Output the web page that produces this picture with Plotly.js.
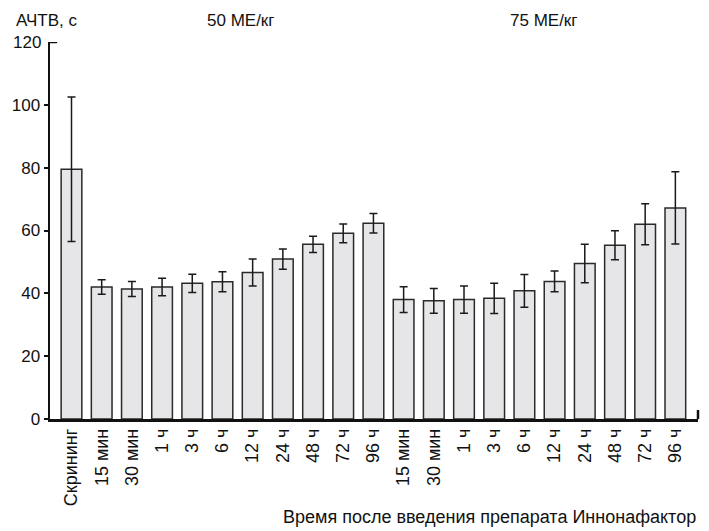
<!DOCTYPE html>
<html>
<head>
<meta charset="utf-8">
<script src="https://cdn.plot.ly/plotly-3.0.1.min.js"></script>
<style>html,body{margin:0;padding:0;background:#fff;}#chart{width:709px;height:531px;}</style>
</head>
<body>
<div id="chart"></div>
<script>
// Data
var categories = ["Скрининг","15 мин","30 мин","1 ч","3 ч","6 ч","12 ч","24 ч","48 ч","72 ч","96 ч",
                  "15 мин ","30 мин ","1 ч ","3 ч ","6 ч ","12 ч ","24 ч ","48 ч ","72 ч ","96 ч "];
var tickLabels = ["Скрининг","15 мин","30 мин","1 ч","3 ч","6 ч","12 ч","24 ч","48 ч","72 ч","96 ч",
                  "15 мин","30 мин","1 ч","3 ч","6 ч","12 ч","24 ч","48 ч","72 ч","96 ч"];
var meanValues = [79.5, 42.0, 41.4, 42.0, 43.2, 43.7, 46.6, 50.9, 55.6, 59.1, 62.3,
                  38.0, 37.6, 38.0, 38.4, 40.8, 43.8, 49.5, 55.3, 62.0, 67.2];
var errValues  = [23.0, 2.3, 2.4, 2.8, 2.9, 3.2, 4.3, 3.2, 2.6, 3.0, 3.1,
                  4.1, 3.9, 4.3, 4.8, 5.2, 3.3, 6.1, 4.6, 6.5, 11.5];
var groupLabels = ["50 МЕ/кг", "75 МЕ/кг"];
var yTicks = [0, 20, 40, 60, 80, 100];
var yTop = 120;

var FONT = "'Liberation Sans', Arial, sans-serif";

var trace = {
  type: "bar",
  x: categories,
  y: meanValues,
  width: 0.685,
  marker: {color: "#e6e6e8", line: {color: "#2a2a2a", width: 1.5}},
  error_y: {type: "data", array: errValues, visible: true, color: "#1a1a1a", thickness: 1.5, width: 4},
  hoverinfo: "none"
};

var layout = {
  width: 709, height: 531,
  margin: {l: 50, r: 11, t: 42, b: 112},
  paper_bgcolor: "#fff", plot_bgcolor: "#fff",
  showlegend: false,
  font: {family: FONT, size: 17, color: "#111"},
  xaxis: {
    type: "category",
    range: [-0.712, 20.75],
    tickvals: categories,
    ticktext: tickLabels,
    tickangle: -90,
    ticks: "",
    showgrid: false,
    zeroline: false,
    showline: true, linecolor: "#111", linewidth: 2.5,
    tickfont: {family: FONT, size: 18, color: "#111"},
    fixedrange: true
  },
  yaxis: {
    range: [0, yTop],
    tickvals: yTicks,
    ticks: "outside", ticklen: 4, tickwidth: 2, tickcolor: "#111",
    showgrid: false, zeroline: false,
    showline: true, linecolor: "#111", linewidth: 2.5,
    tickfont: {family: FONT, size: 17, color: "#111"},
    fixedrange: true
  },
  shapes: [
    {type: "line", xref: "paper", yref: "paper", x0: 1, x1: 1, y0: 0, y1: 0.024, line: {color: "#111", width: 2.5}},
    {type: "line", xref: "paper", yref: "y", x0: 0, x1: 0.011, y0: yTop, y1: yTop, line: {color: "#111", width: 2.5}}
  ],
  annotations: [
    {text: String(yTop), xref: "paper", yref: "y", x: -0.011, y: yTop, xanchor: "right", yanchor: "middle", showarrow: false, font: {family: FONT, size: 17, color: "#111"}},
    {text: "АЧТВ, с", xref: "paper", yref: "paper", x: -0.056, y: 1.056, xanchor: "left", yanchor: "middle", showarrow: false, font: {family: FONT, size: 17, color: "#111"}},
    {text: groupLabels[0], xref: "paper", yref: "paper", x: 0.294, y: 1.056, xanchor: "center", yanchor: "middle", showarrow: false, font: {family: FONT, size: 17, color: "#111"}},
    {text: groupLabels[1], xref: "paper", yref: "paper", x: 0.762, y: 1.056, xanchor: "center", yanchor: "middle", showarrow: false, font: {family: FONT, size: 17, color: "#111"}},
    {text: "Время после введения препарата Иннонафактор", xref: "paper", yref: "paper", x: 1.0, y: -0.26, xanchor: "right", yanchor: "middle", showarrow: false, font: {family: FONT, size: 18, color: "#111"}}
  ]
};

Plotly.newPlot("chart", [trace], layout, {displayModeBar: false, staticPlot: true});
</script>
</body>
</html>
